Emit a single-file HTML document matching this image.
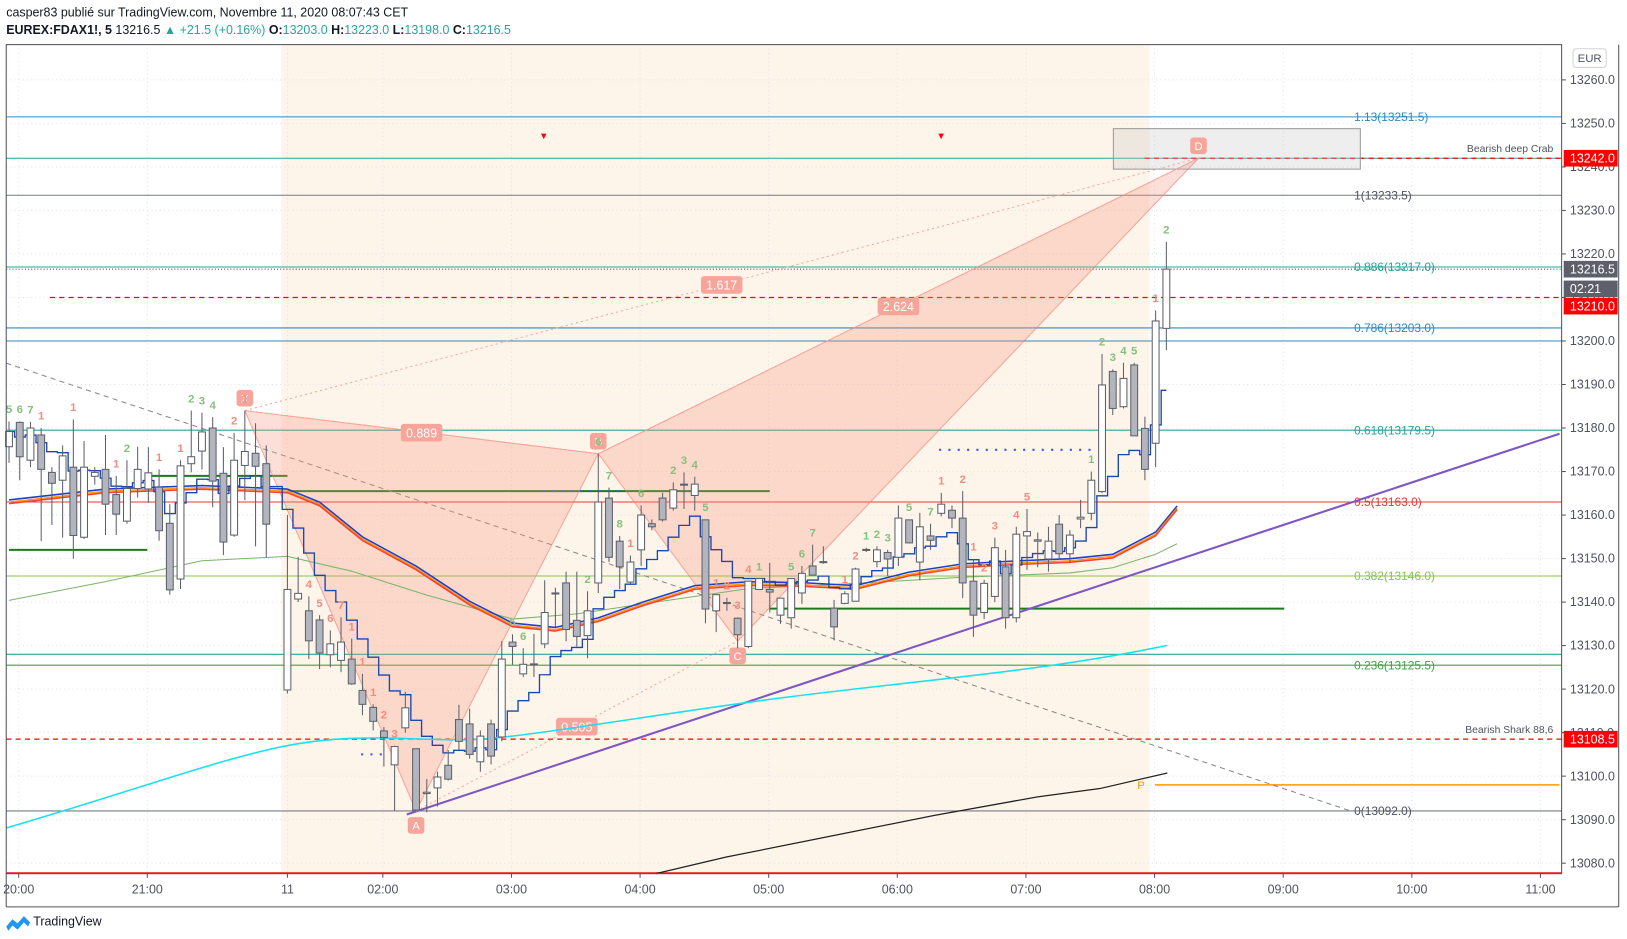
<!DOCTYPE html>
<html><head><meta charset="utf-8">
<style>
html,body{margin:0;padding:0;background:#fff;}
svg{display:block;font-family:"Liberation Sans",sans-serif;}
</style></head>
<body>
<svg id="chart" width="1627" height="939" viewBox="0 0 1568 905" preserveAspectRatio="none" xmlns="http://www.w3.org/2000/svg">
<rect x="0" y="0" width="1568" height="905" fill="#ffffff"/>
<text x="6" y="16" font-size="12" fill="#131722">casper83 publié sur TradingView.com, Novembre 11, 2020 08:07:43 CET</text>
<text x="6" y="33" font-size="12" fill="#131722" font-weight="bold">EUREX:FDAX1!, 5 <tspan font-weight="normal">13216.5</tspan> <tspan fill="#26a69a" font-weight="normal">▲ +21.5 (+0.16%)</tspan> O:<tspan fill="#26a69a" font-weight="normal">13203.0</tspan> H:<tspan fill="#26a69a" font-weight="normal">13223.0</tspan> L:<tspan fill="#26a69a" font-weight="normal">13198.0</tspan> C:<tspan fill="#26a69a" font-weight="normal">13216.5</tspan></text>
<rect x="271" y="43" width="837" height="799" fill="#fef5ea"/>
<g id="grid"></g>
<g id="lines"></g>
<g id="pattern"></g>
<g id="mas"></g>
<g id="candles"></g>
<g id="labels"></g>
<g id="axes"></g>
<g>
<path d="M6 893 l6 -7 l5 4 l6 -7 l6 6 l-2 4 l-4 -4 l-6 7 l-5 -4 l-4 5z" fill="#2196f3"/>
<text x="32" y="892" font-size="12" fill="#131722">TradingView</text>
</g>
</svg>
<script>
// ---- chart data ----
const opens=[13175.7,13181.3,13172.6,13178.4,13169.8,13168,13171,13154.9,13168.9,13170.5,13164.7,13158.6,13166.1,13166,13166.4,13158.1,13145.3,13171.8,13174.7,13180,13169.6,13155.4,13171.4,13174.2,13171.8,
13119.8,13140.7,13138,13135.9,13127.9,13126.6,13126.9,13119.7,13115.8,13110.4,13102.6,13111.1,13106.3,13096,13097.3,13102.5,13113,13112,13103.3,13112,13109,13130.8,13123.5,13125.7,13130.4,13142,13144.4,13135.8,13132.3,13144.4,13163.9,13154,13144.6,13152,13158,13163.9,13161.6,13167,13164.5,13158.9,13138,13139.8,13136.3,13129.8,13142.9,13142.9,13137,13136.4,13142.1,13148.3,13149.3,13138.6,13139.7,13140.2,13152,13149.3,13151.4,13150.3,13158.9,13149.2,13155.2,13160.4,13161.1,13159.3,13144.8,13137.6,13141.3,13148.1,13136.4,13155.2,13154,13149.9,13157.9,13151.1,13159.1,13160.4,13165.4,13193,13184.9,13194.5,13179.9,13176.5,13202.9];
const highs=[13181.5,13181.5,13181.4,13180,13171,13176,13182,13177,13171,13178.4,13169,13172.6,13175.7,13175.6,13170.5,13162.5,13172.6,13184,13183.5,13182.5,13175.6,13178.9,13184,13181.1,13176,
13160,13150.4,13141.3,13137,13133.5,13136.5,13131.6,13123.5,13116.5,13111.3,13107,13119.4,13106.3,13099.3,13101,13106,13116.4,13115.5,13110.5,13113,13131,13132.6,13129.4,13132.7,13145,13143.3,13147,13147,13142.5,13174.1,13166.3,13155.2,13150.7,13162.2,13159,13165.1,13167.5,13169.8,13168.8,13159,13141.7,13141,13136.5,13144.8,13145.4,13149,13141,13145.4,13148.3,13153.2,13152.8,13140.5,13142.5,13147.9,13152.5,13152.8,13152,13162.2,13159,13160.5,13158,13165.1,13162.2,13165.5,13149.9,13145.1,13154.8,13152,13157.3,13161.4,13156,13157.3,13160,13156.5,13163.5,13170,13197,13193.5,13195,13195,13182.6,13207,13222.8];
const lows=[13172,13168,13171,13154,13157.7,13154.8,13150,13154.5,13167,13155.4,13155.4,13158,13164,13162.8,13154.1,13141.7,13143,13169.8,13170.5,13161.8,13150.8,13155,13163.4,13152.8,13150.3,
13119,13140,13126.9,13124.6,13125,13123.9,13121,13114,13110.5,13102.2,13092,13110,13092,13091.7,13093,13099,13106,13104,13101,13102.7,13108,13125.6,13122.8,13122.8,13129.4,13134.3,13131,13129.8,13127.1,13142.1,13149.2,13143,13144.2,13148.3,13156.5,13158.5,13161,13161.4,13161,13135.1,13133.1,13138,13129.4,13129.4,13142.9,13137.6,13135,13133.9,13139.6,13146.2,13148.8,13131.2,13139.5,13140.2,13151.5,13148,13146,13148.3,13153.6,13145,13152,13159.7,13157,13140.9,13132,13136.1,13140,13133.9,13135.3,13147.4,13148,13147,13150,13149,13157,13158.8,13165,13183,13184.5,13178.2,13168,13171,13197.9];
const closes=[13179.2,13173.4,13180,13170.5,13167.3,13173.6,13155.3,13171,13169.8,13162.5,13160.2,13166.1,13170.5,13169.7,13156.4,13142.8,13171.3,13173.4,13179.1,13167.8,13153.8,13172.6,13174.6,13171.2,13157.9,
13142.9,13142,13131.1,13128.3,13130.4,13130.8,13121.2,13116.5,13112.6,13108.9,13106.8,13115.7,13092.2,13096.3,13099.8,13099.3,13108,13105,13109.2,13104.6,13126.9,13129.8,13125.7,13125.8,13137.6,13142.1,13133.7,13132.1,13138,13163,13150.3,13148.1,13149.2,13160,13157.3,13158.9,13165.8,13167.1,13167.1,13138.4,13141.7,13139.9,13132.5,13144.8,13145.4,13142.3,13140.9,13145.4,13146.6,13146.2,13149.1,13134.3,13141.9,13147.6,13152.1,13152,13149.9,13159.3,13153.6,13157.3,13154.2,13162.5,13159.3,13144.4,13137,13144.3,13152.5,13136.4,13155.6,13156.2,13154.3,13154,13151.1,13155.4,13159.5,13168,13189.9,13184.5,13191.4,13178.2,13170.5,13204.6,13216.5];
const priceTicks=[13260,13250,13240,13230,13220,13210,13200,13190,13180,13170,13160,13150,13140,13130,13120,13110,13100,13090,13080];
const timeTickLabels=["20:00","21:00","11","02:00","03:00","04:00","05:00","06:00","07:00","08:00","09:00","10:00","11:00"];
const timeTickIdx=[0.9,12.9,25,33.9,45.9,57.9,69.9,81.9,93.9,105.9,117.9,129.9,141.9];
const patternNames=["X","A","B","C","D"];
const patternIdx=[22,37,54,67,110];
const patternPrice=[13184,13092,13174.1,13131,13242];
const ratioLabels=["0.889","1.617","2.624","0.505"];
const fibLabels=["1.13(13251.5)","1(13233.5)","0.886(13217.0)","0.786(13203.0)","0.618(13179.5)","0.5(13163.0)","0.382(13146.0)","0.236(13125.5)","0(13092.0)"];
const fibPrices=[13251.5,13233.5,13217.0,13203.0,13179.5,13163.0,13146.0,13125.5,13092.0];
const fibColors=["#2e8bc0","#787b86","#26a69a","#2e8bc0","#26a69a","#e53935","#8bc34a","#43a047","#787b86"];
const maTrioIdx=[0,9,18,25,28,32,37,42,46,50,54,58,63,68,73,78,83,88,93,98,102,106,108];
const maTrioVal=[13163,13165.5,13166.3,13165.5,13162.5,13154.5,13147.8,13139.7,13134.7,13133.7,13135.9,13139.4,13143.3,13144.2,13144,13143.3,13146.4,13148.3,13149,13149.5,13150.5,13155.6,13161.6];
const maGreenIdx=[0,9,18,25,31,38,46,52,58,68,78,88,98,102,106,108];
const maGreenVal=[13140.4,13144.7,13149.5,13150.5,13147.1,13141.6,13136.1,13137.3,13139.5,13143.1,13144.3,13145.7,13146.7,13147.9,13151,13153.4];
const tdIdx=[0,1,2,3,6,10,11,14,16,17,18,19,21,22,27,28,29,30,31,32,33,34,35,46,47,53,54,55,56,57,58,61,62,63,64,65,66,67,68,69,72,73,74,77,78,79,80,81,83,85,86,88,89,90,91,93,94,100,101,102,103,104,106,107];
const tdText=["5","6","7","1","1","1","2","1","1","2","3","4","2","1","4","5","6","7","1","1","1","2","3","5","6","2","6","7","8","1","6","2","3","4","5","1","2","3","4","1","5","6","7","1","2","1","2","3","5","7","1","2","1","2","3","4","5","1","2","3","4","5","1","2"];
const tdRed=[0,0,0,1,1,1,0,1,1,0,0,0,1,1,1,1,1,1,1,1,1,1,1,0,0,0,0,0,0,1,0,0,0,0,0,1,1,1,1,0,0,0,0,1,1,0,0,0,0,0,1,1,1,1,1,1,1,0,0,0,0,0,1,0];

// ---- scales ----
const yP=p=>77+(13260-p)*4.194;
const xI=i=>i<25?8.7+i*10.33:277+(i-25)*10.33;
const NS="http://www.w3.org/2000/svg";
function mk(tag,attrs,parent){const e=document.createElementNS(NS,tag);for(const k in attrs)e.setAttribute(k,attrs[k]);parent.appendChild(e);return e;}
const G=id=>document.getElementById(id);

// grid
priceTicks.forEach(p=>{const l=mk('line',{x1:6,x2:1505,y1:yP(p),y2:yP(p),stroke:'#e1e3ea','stroke-dasharray':'1 3'},G('grid'));

});
timeTickIdx.forEach(t=>{const l=mk('line',{x1:xI(t),x2:xI(t),y1:43,y2:842,stroke:'#e1e3ea','stroke-dasharray':'1 3'},G('grid'));

});

// levels
const L=G('lines');
function hline(x1,x2,p,c,w,dash,name){const l=mk('line',{x1:x1,x2:x2,y1:yP(p),y2:yP(p),stroke:c,'stroke-width':w},L);if(dash)l.setAttribute('stroke-dasharray',dash);

return l;}
fibPrices.forEach((p,k)=>{hline(6,1505,p,fibColors[k],1,null,'fib-level');
const t=mk('text',{x:1305,y:yP(p)+4,'font-size':11.5,fill:fibColors[k]==='#787b86'?'#50535e':fibColors[k]},L);t.textContent=fibLabels[k];

});
hline(6,1505,13242,'#26a69a',1,null,'crab-level');
hline(6,1505,13200,'#2e8bc0',1,null,'level-13200');
hline(6,1505,13128,'#26a69a',1,null,'level-13128');
hline(1103,1505,13242,'#f00',1.2,'5 4','crab-target-line');
hline(48,1505,13210,'#f00',1.2,'5 4','level-13210');
hline(6,1505,13108.5,'#f00',1.2,'5 4','shark-target-line');
hline(6,1505,13216.5,'#50535e',1,'1 2','last-price-line');
let d=mk('line',{x1:6,x2:1505,y1:841.5,y2:841.5,stroke:'#e53935','stroke-width':2},L);


[[0,12.9,13152],[12.9,25,13169],[25,70,13165.5],[70,118,13138.5]].forEach(s=>hline(xI(s[0]),xI(s[1]),s[2],'#1b7a1b',2,null,'support-line'));
hline(1113,1503,13098,'#ff9800',1.5,null,'pivot-line');
let t=mk('text',{x:1096,y:yP(13098)+4,'font-size':11,fill:'#ff9800'},L);t.textContent='P';


[[523,600,13165.5],[905,1055,13175],[348,372,13105]].forEach(s=>{const l=mk('line',{x1:s[0],x2:s[1],y1:yP(s[2]),y2:yP(s[2]),stroke:'#3f51f5','stroke-width':2,'stroke-dasharray':'2 7'},L);

});
d=mk('line',{x1:6,y1:350,x2:1300,y2:781,stroke:'#888','stroke-dasharray':'5 4'},L);


d=mk('line',{x1:392,y1:785,x2:1503,y2:418,stroke:'#7e57c2','stroke-width':2},L);


[['Bearish deep Crab',13242],['Bearish Shark 88,6',13108.5]].forEach(a=>{const x=mk('text',{x:1497,y:yP(a[1])-6,'font-size':10,fill:'#50535e','text-anchor':'end'},L);x.textContent=a[0];

});
d=mk('rect',{x:1073,y:124,width:238,height:39,fill:'rgba(200,200,200,0.3)',stroke:'#9a9a9a'},L);


[524,907].forEach(x=>{const e=mk('text',{x:x,y:134,'font-size':9,fill:'#f00','text-anchor':'middle'},L);e.textContent='▼';

});

// harmonic pattern
const P=G('pattern');
const px=k=>xI(patternIdx[k]), py=k=>yP(patternPrice[k]);
[[0,1,2],[2,3,4]].forEach(tr=>{const e=mk('polygon',{points:tr.map(k=>px(k)+','+py(k)).join(' '),fill:'rgba(248,150,130,0.3)',stroke:'rgba(245,120,110,0.6)'},P);

});
[[0,2],[2,4],[0,4],[1,3]].forEach(s=>{const e=mk('line',{x1:px(s[0]),y1:py(s[0]),x2:px(s[1]),y2:py(s[1]),stroke:'#f7a59a','stroke-dasharray':'2 3'},P);

});
patternNames.forEach((n,k)=>{const up=(k%2===0);const cy=up?py(k)-12:py(k)+14;
const r=mk('rect',{x:px(k)-8,y:cy-8,width:16,height:16,rx:3,fill:'#f7a59a'},P);


const e=mk('text',{x:px(k),y:cy+4,'font-size':11,fill:'#fff','text-anchor':'middle'},P);e.textContent=n;

});
[[0,2],[0,4],[2,4],[1,3]].forEach((s,k)=>{const mx=(px(s[0])+px(s[1]))/2,my=(py(s[0])+py(s[1]))/2;
const r=mk('rect',{x:mx-20,y:my-8,width:40,height:17,rx:3,fill:'#f7a59a'},P);


const e=mk('text',{x:mx,y:my+5,'font-size':12,fill:'#fff','text-anchor':'middle'},P);e.textContent=ratioLabels[k];

});

// moving averages
const M=G('mas');
function ema(arr,n){const a=2/(n+1);let v=arr[0];return arr.map(c=>v=v+a*(c-v));}
function pathIdx(idx,vals,off,color,w,name){const s=idx.map((i,k)=>(k?'L':'M')+xI(i)+' '+(yP(vals[k])+off)).join(' ');
const e=mk('path',{d:s,fill:'none',stroke:color,'stroke-width':w,'stroke-linejoin':'round'},M);

}
function stepLine(vals,color,w,name){let s='';vals.forEach((v,i)=>{const x=xI(i),y=yP(v);if(i===0)s='M'+x+' '+y;else s+=' L'+(x-5)+' '+yP(vals[i-1])+' L'+(x-5)+' '+y+' L'+x+' '+y;});
const e=mk('path',{d:s,fill:'none',stroke:color,'stroke-width':w},M);

}
pathIdx(maGreenIdx,maGreenVal,0,'#7cb36b',1,'ma-green');
pathIdx(maTrioIdx,maTrioVal,-2,'#1e3fd0',1.5,'ma-blue');
pathIdx(maTrioIdx,maTrioVal,0,'#ff9800',1.3,'ma-orange');
pathIdx(maTrioIdx,maTrioVal,1.5,'#f44336',1.5,'ma-red');
stepLine(ema(closes,8),'#1848b0',1.3,'step-line');
d=mk('path',{d:'M6 798 C120 765 200 735 270 720 S400 714 450 713 S620 690 750 673 S1000 648 1125 622',fill:'none',stroke:'#18e0f0','stroke-width':1.5},M);


d=mk('path',{d:'M632 842 L700 826 L800 806 L900 786 L1000 768 L1060 760 L1125 745',fill:'none',stroke:'#222','stroke-width':1.2},M);



// candles
const C=G('candles');
closes.forEach((c,i)=>{const o=opens[i],x=xI(i),up=c>=o;
const w=mk('line',{x1:x,x2:x,y1:yP(highs[i]),y2:yP(lows[i]),stroke:'#5d606b','stroke-width':1},C);


const top=yP(Math.max(o,c)),h=Math.max(1,Math.abs(yP(o)-yP(c)));
const b=mk('rect',{x:x-3.3,y:top,width:6.6,height:h,fill:up?'#ffffff':'#b2b5be',stroke:'#5d606b','stroke-width':1},C);

});

// TD counts
const TL=G('labels');
tdIdx.forEach((i,k)=>{const red=tdRed[k]===1;const y=yP(highs[i])-8;
const e=mk('text',{x:xI(i),y:y,'font-size':11,'font-weight':'bold',fill:red?'#f28b82':'#86bf7e','text-anchor':'middle'},TL);e.textContent=tdText[k];

});

// axes
const A=G('axes');
d=mk('rect',{x:6,y:43,width:1499,height:799,fill:'none',stroke:'#50535e'},A);


d=mk('line',{x1:6,x2:1560,y1:874,y2:874,stroke:'#50535e'},A);


d=mk('line',{x1:6,x2:6,y1:842,y2:874,stroke:'#50535e'},A);


d=mk('line',{x1:1560,x2:1560,y1:43,y2:874,stroke:'#50535e'},A);


priceTicks.forEach(p=>{const tk=mk('line',{x1:1505,x2:1509,y1:yP(p),y2:yP(p),stroke:'#50535e'},A);


const e=mk('text',{x:1513,y:yP(p)+4,'font-size':12,fill:'#50535e'},A);e.textContent=p.toFixed(1);

});
timeTickIdx.forEach((ti,k)=>{const tk=mk('line',{x1:xI(ti),x2:xI(ti),y1:842,y2:846,stroke:'#50535e'},A);


const e=mk('text',{x:xI(ti),y:861,'font-size':12,fill:'#50535e','text-anchor':'middle'},A);e.textContent=timeTickLabels[k];

});
function badge(y,txt,bg,name){const r=mk('rect',{x:1507,y:y-8,width:52,height:16,fill:bg},A);


const e=mk('text',{x:1513,y:y+4,'font-size':12,fill:'#fff'},A);e.textContent=txt;

}
badge(yP(13242),'13242.0','#ff0000','crab-price-badge');
badge(yP(13216.5),'13216.5','#5d606b','last-price-badge');
badge(yP(13216.5)+19,'02:21','#5d606b','countdown-badge');
badge(yP(13208),'13210.0','#ff0000','level-price-badge');
badge(yP(13108.5),'13108.5','#ff0000','shark-price-badge');
d=mk('rect',{x:1516,y:47,width:32,height:18,rx:3,fill:'#fff',stroke:'#d1d4dc'},A);


d=mk('text',{x:1532,y:60,'font-size':11,fill:'#50535e','text-anchor':'middle'},A);d.textContent='EUR';


</script>
</body></html>
